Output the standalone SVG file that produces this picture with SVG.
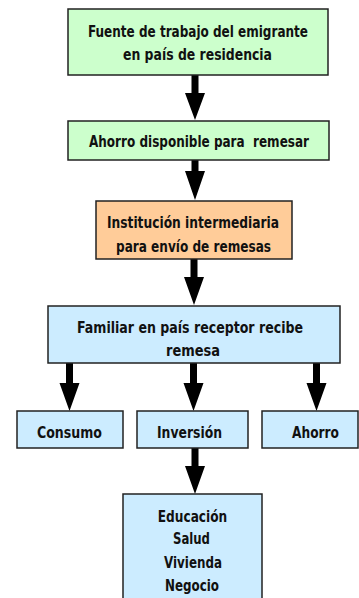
<svg xmlns="http://www.w3.org/2000/svg" width="359" height="598" viewBox="0 0 359 598">
<style>
.box{stroke:#222;stroke-width:1.5}
.g{fill:#CCFFCC}
.o{fill:#FFCC99}
.b{fill:#CCECFF}
text{font-family:"DejaVu Sans Condensed","DejaVu Sans",sans-serif;font-weight:bold;font-size:16.5px;fill:#111;text-anchor:middle}
.arr{fill:#000}
</style>
<rect width="359" height="598" fill="#fff"/>
<g id="connectors">
<path class="arr" d="M191.5,75 h7 v18 h6.5 l-10,27 l-10,-27 h6.5 z"/>
<path class="arr" d="M191.5,160 h7 v11 h6.5 l-10,29 l-10,-29 h6.5 z"/>
<path class="arr" d="M190.5,259 h7 v18 h6.5 l-10,28 l-10,-28 h6.5 z"/>
<path class="arr" d="M66,363 h7 v20 h6.5 l-10,28 l-10,-28 h6.5 z"/>
<path class="arr" d="M190,363 h7 v20 h6.5 l-10,28 l-10,-28 h6.5 z"/>
<path class="arr" d="M313,363 h7 v20 h6.5 l-10,28 l-10,-28 h6.5 z"/>
<path class="arr" d="M191.5,448 h7 v18 h6.5 l-10,28 l-10,-28 h6.5 z"/>
</g>
<g id="n1">
<rect class="box g" x="68" y="9" width="260" height="66"/>
<text x="198" y="37" textLength="220" lengthAdjust="spacingAndGlyphs">Fuente de trabajo del emigrante</text>
<text x="197.5" y="60" textLength="149" lengthAdjust="spacingAndGlyphs">en país de residencia</text>
</g>
<g id="n2">
<rect class="box g" x="68" y="121" width="261" height="39"/>
<text x="199" y="146.5" textLength="220" lengthAdjust="spacingAndGlyphs" xml:space="preserve">Ahorro disponible para  remesar</text>
</g>
<g id="n3">
<rect class="box o" x="96" y="201" width="196" height="58"/>
<text x="193" y="228" textLength="172" lengthAdjust="spacingAndGlyphs">Institución intermediaria</text>
<text x="193.5" y="252" textLength="155" lengthAdjust="spacingAndGlyphs">para envío de remesas</text>
</g>
<g id="n4">
<rect class="box b" x="48" y="306" width="292" height="57"/>
<text x="190" y="333" textLength="226" lengthAdjust="spacingAndGlyphs">Familiar en país receptor recibe</text>
<text x="193" y="356" textLength="54" lengthAdjust="spacingAndGlyphs">remesa</text>
</g>
<g id="n5">
<rect class="box b" x="17" y="411" width="106" height="37"/>
<text x="69.5" y="437.5" textLength="65" lengthAdjust="spacingAndGlyphs">Consumo</text>
</g>
<g id="n6">
<rect class="box b" x="137" y="411" width="111" height="37"/>
<text x="189.5" y="437.5" textLength="65" lengthAdjust="spacingAndGlyphs">Inversión</text>
</g>
<g id="n7">
<rect class="box b" x="262" y="411" width="96" height="37"/>
<text x="315.5" y="437.5" textLength="47" lengthAdjust="spacingAndGlyphs">Ahorro</text>
</g>
<g id="n8">
<rect class="box b" x="123" y="494" width="139" height="110"/>
<text x="192.5" y="521.5" textLength="69.5" lengthAdjust="spacingAndGlyphs">Educación</text>
<text x="191.5" y="544" textLength="37" lengthAdjust="spacingAndGlyphs">Salud</text>
<text x="193" y="567.5" textLength="58" lengthAdjust="spacingAndGlyphs">Vivienda</text>
<text x="192" y="590.5" textLength="54" lengthAdjust="spacingAndGlyphs">Negocio</text>
</g>
</svg>
